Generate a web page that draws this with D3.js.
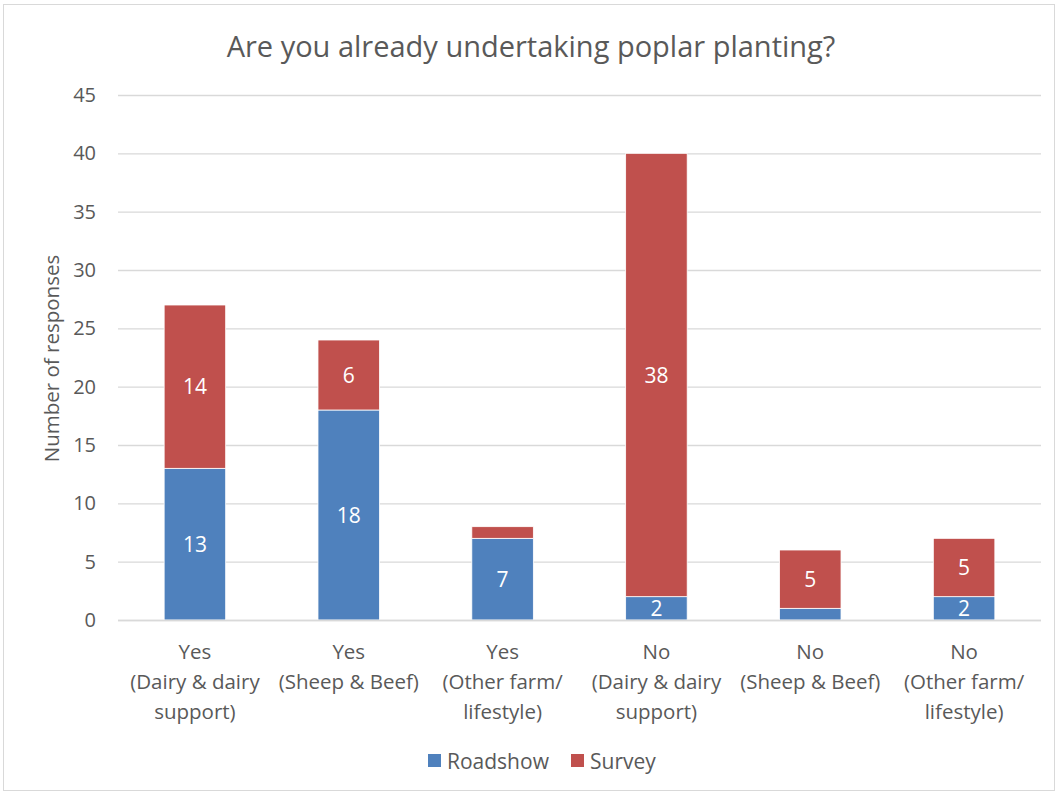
<!DOCTYPE html>
<html lang="en">
<head>
<meta charset="UTF-8" />
<title>Poplar planting</title>
<style>
  body { margin: 0; background: #fff; }
  svg text { font-family: "Open Sans", sans-serif; fill: #595959; }
</style>
</head>
<body>
<div class="chart"></div>
<script src="https://d3js.org/d3.v7.min.js"></script>
<script>
  // data
  const categories = [
    ['Yes', '(Dairy & dairy', 'support)'],
    ['Yes', '(Sheep & Beef)'],
    ['Yes', '(Other farm/', 'lifestyle)'],
    ['No', '(Dairy & dairy', 'support)'],
    ['No', '(Sheep & Beef)'],
    ['No', '(Other farm/', 'lifestyle)']
  ]
  const roadshow = [13, 18, 7, 2, 1, 2]
  const survey = [14, 6, 1, 38, 5, 5]
  const seriesNames = ['Roadshow', 'Survey']
  const seriesColors = ['#4F81BD', '#C0504D']
  const yTicks = [0, 5, 10, 15, 20, 25, 30, 35, 40, 45]
  // which segment labels are shown in the original
  const showLabel = {
    Roadshow: [true, true, true, true, false, true],
    Survey: [true, true, false, true, true, true]
  }

  const width = 1059, height = 795
  const plotLeft = 118, plotRight = 1041, plotTop = 95, plotBottom = 620

  const svg = d3.select('.chart').append('svg')
    .attr('width', width).attr('height', height)

  // outer border
  svg.append('rect')
    .attr('x', 3.5).attr('y', 4.5)
    .attr('width', 1051).attr('height', 786)
    .attr('fill', '#fff').attr('stroke', '#d9d9d9')

  const table = categories.map((c, i) => ({ key: i, Roadshow: roadshow[i], Survey: survey[i] }))
  const stacked = d3.stack().keys(seriesNames)(table)

  const x = d3.scaleBand().domain(d3.range(categories.length))
    .range([plotLeft, plotRight]).paddingInner(0.6).paddingOuter(0.3)
  const y = d3.scaleLinear().domain([0, 45]).range([plotBottom, plotTop])
  const color = d3.scaleOrdinal().domain(seriesNames).range(seriesColors)

  // gridlines
  svg.append('g')
    .attr('transform', `translate(${plotLeft},0)`)
    .call(d3.axisLeft(y).tickValues(yTicks).tickSize(-(plotRight - plotLeft)).tickPadding(22))
    .call(g => g.select('.domain').remove())
    .call(g => g.selectAll('.tick line').attr('stroke', '#d9d9d9').attr('stroke-width', 1.3))
    .call(g => g.selectAll('.tick text').attr('font-size', 20).attr('fill', '#595959')
      .style('font-family', '"Open Sans", sans-serif'))

  // bars
  const layer = svg.append('g').selectAll('g')
    .data(stacked).join('g')
    .attr('fill', d => color(d.key))

  layer.selectAll('rect')
    .data(d => d).join('rect')
    .attr('x', (d, i) => x(i))
    .attr('y', d => y(d[1]))
    .attr('width', x.bandwidth())
    .attr('height', d => y(d[0]) - y(d[1]))
    .attr('stroke', '#fff').attr('stroke-width', 0.8)

  // data labels
  stacked.forEach(s => {
    svg.append('g').selectAll('text')
      .data(s.map((d, i) => ({ d, i })).filter(o => showLabel[s.key][o.i]))
      .join('text')
      .attr('x', o => x(o.i) + x.bandwidth() / 2)
      .attr('y', o => (y(o.d[0]) + y(o.d[1])) / 2)
      .attr('dy', '0.36em')
      .attr('text-anchor', 'middle')
      .attr('font-size', 21)
      .style('fill', '#fff')
      .text(o => o.d[1] - o.d[0])
  })

  // x axis line
  svg.append('line')
    .attr('x1', plotLeft).attr('x2', plotRight)
    .attr('y1', plotBottom + 0.5).attr('y2', plotBottom + 0.5)
    .attr('stroke', '#d9d9d9').attr('stroke-width', 1.3)

  // category labels
  const catG = svg.append('g').selectAll('text')
    .data(categories).join('text')
    .attr('text-anchor', 'middle')
    .attr('font-size', 20.5)
    .attr('x', (d, i) => x(i) + x.bandwidth() / 2)
    .attr('y', 659)
  catG.selectAll('tspan')
    .data(d => d).join('tspan')
    .attr('x', function () { return this.parentNode.getAttribute('x') })
    .attr('dy', (d, i) => i === 0 ? 0 : 30)
    .text(d => d)

  // title
  svg.append('text')
    .attr('x', 531).attr('y', 57)
    .attr('text-anchor', 'middle')
    .attr('font-size', 29)
    .text('Are you already undertaking poplar planting?')

  // y axis title
  svg.append('text')
    .attr('transform', `translate(59, ${(plotTop + plotBottom) / 2 + 1}) rotate(-90)`)
    .attr('text-anchor', 'middle')
    .attr('font-size', 20.5)
    .text('Number of responses')

  // legend
  const legendX = [428, 571]
  const legend = svg.append('g').selectAll('g')
    .data(seriesNames).join('g')
    .attr('transform', (d, i) => `translate(${legendX[i]}, 754)`)
  legend.append('rect')
    .attr('width', 13).attr('height', 13)
    .attr('fill', d => color(d))
  legend.append('text')
    .attr('x', 19).attr('y', 7).attr('dy', '0.36em')
    .attr('font-size', 21)
    .text(d => d)
</script>
</body>
</html>
